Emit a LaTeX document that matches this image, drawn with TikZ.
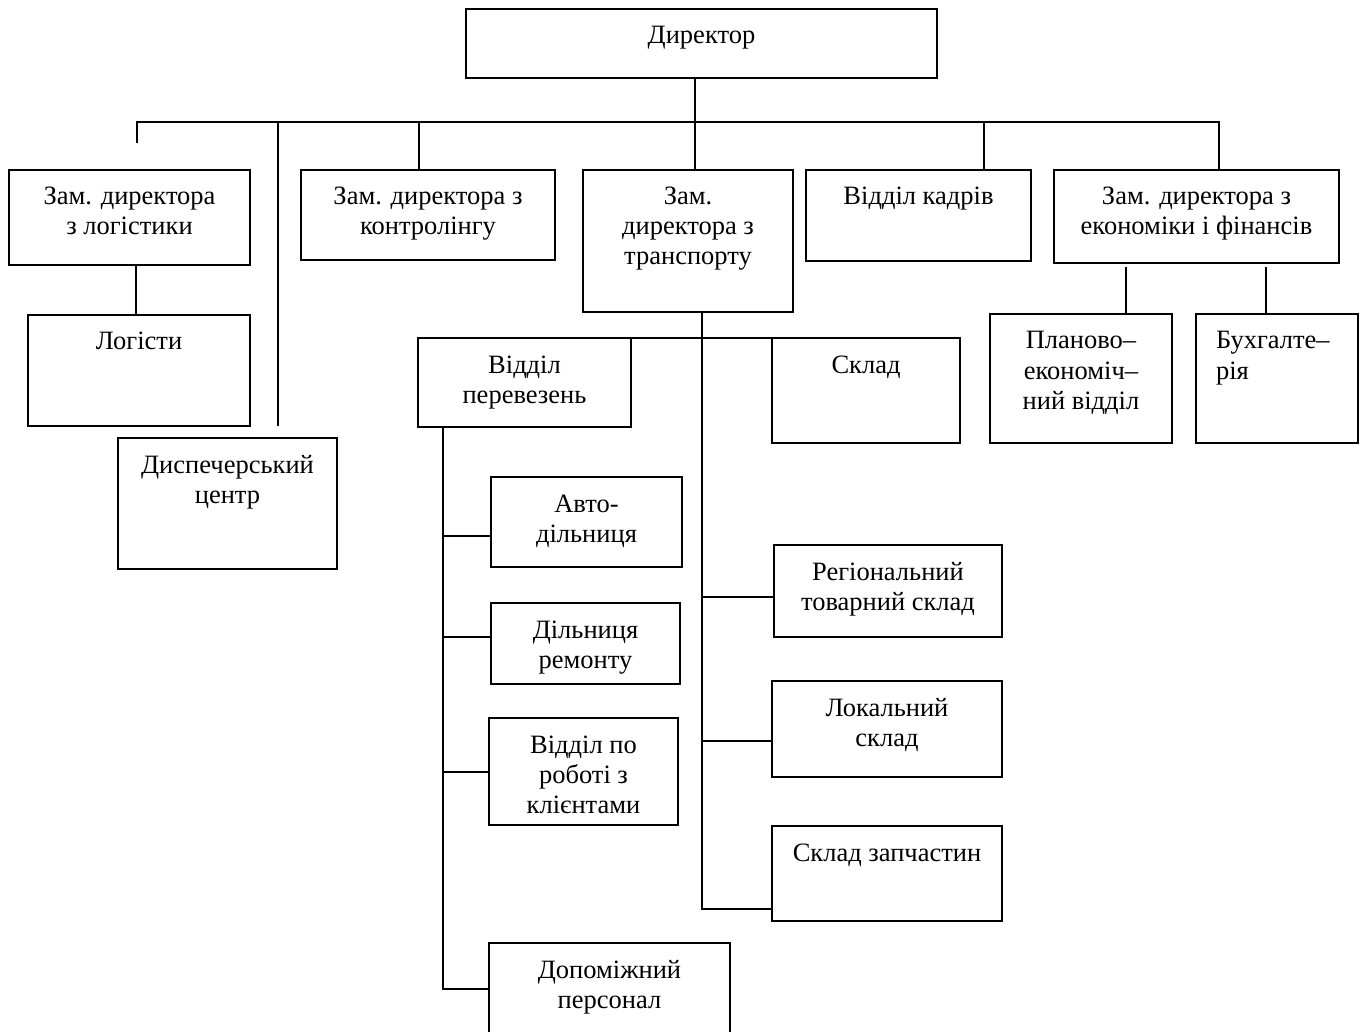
\documentclass[tikz,border=0pt]{standalone}
\usepackage{fontspec}
\setmainfont{Liberation Serif}
\tikzset{
  box/.style={draw, line width=1.5pt, inner sep=0pt, outer sep=0pt, anchor=north west,
    font=\fontsize{26.5}{30}\selectfont},
  conn/.style={line width=1.5pt}
}
% align, name, x1, y1, x2, y2, text
\newcommand\orgbox[7]{%
  \node[box] (#2) at (#3,#4) {\parbox[t][\dimexpr #6pt-#4pt\relax][t]{\dimexpr #5pt-#3pt\relax}{#1\vspace*{14pt}\strut #7\par}};}
\begin{document}
\begin{tikzpicture}[x=1pt,y=-1pt]
\fill[white] (0,0) rectangle (1365,1032);
\useasboundingbox (0,0) rectangle (1365,1032);

\orgbox{\centering}{dir}{466}{9}{937}{78}{Директор}
\orgbox{\centering}{zlog}{9}{170}{250}{265}{Зам. директора\\з логістики}
\orgbox{\centering}{ctrl}{301}{170}{555}{260}{Зам. директора з\\контролінгу}
\orgbox{\centering}{trans}{583}{170}{793}{312}{Зам.\\директора з\\транспорту}
\orgbox{\centering}{kadr}{806}{170}{1031}{261}{Відділ кадрів}
\orgbox{\centering}{econ}{1054}{170}{1339}{263}{Зам. директора з\\економіки і фінансів}
\orgbox{\centering}{log}{28}{315}{250}{426}{Логісти}
\orgbox{\centering}{disp}{118}{438}{337}{569}{Диспечерський\\центр}
\orgbox{\centering}{per}{418}{338}{631}{427}{Відділ\\перевезень}
\orgbox{\centering}{sklad}{772}{338}{960}{443}{Склад}
\orgbox{\centering}{plan}{990}{314}{1172}{443}{Планово–\\економіч–\\ний відділ}
\orgbox{\raggedright\leftskip=20pt}{buh}{1196}{314}{1358}{443}{Бухгалте–\\рія}
\orgbox{\centering}{avto}{491}{477}{682}{567}{Авто-\\дільниця}
\orgbox{\centering}{rem}{491}{603}{680}{684}{Дільниця\\ремонту}
\orgbox{\centering}{kli}{489}{718}{678}{825}{Відділ по\\роботі з\\клієнтами}
\orgbox{\centering}{dop}{489}{943}{730}{1050}{Допоміжний\\персонал}
\orgbox{\centering}{reg}{774}{545}{1002}{637}{Регіональний\\товарний склад}
\orgbox{\centering}{lok}{772}{681}{1002}{777}{Локальний\\склад}
\orgbox{\centering}{zap}{772}{826}{1002}{921}{Склад запчастин}

% top bus
\coordinate (b1) at (137,122);
\coordinate (b1e) at (137,143);
\coordinate (b2) at (278,122);
\coordinate (b2e) at (278,426);
\coordinate (b3) at (419,122);
\coordinate (bm) at (695,122);
\coordinate (b4) at (984,122);
\coordinate (b5) at (1219,122);
\draw[conn] (dir.south -| bm) -- (trans.north -| bm);
\draw[conn] (b1e) -- (b1) -- (b5) -- (econ.north -| b5);
\draw[conn] (b2) -- (b2e);
\draw[conn] (b3) -- (ctrl.north -| b3);
\draw[conn] (b4) -- (kadr.north -| b4);

% logistics
\coordinate (lg) at (136,0);
\draw[conn] (zlog.south -| lg) -- (log.north -| lg);

% economics
\coordinate (e1) at (1126,267);
\coordinate (e2) at (1266,267);
\draw[conn] (e1) -- (plan.north -| e1);
\draw[conn] (e2) -- (buh.north -| e2);

% transport
\coordinate (tv) at (702,909);
\draw[conn] (trans.south -| tv) -- (tv) -- (tv -| zap.west);
\draw[conn] (per.north east) -- (sklad.north west);
\coordinate (r1) at (702,597);
\coordinate (r2) at (702,741);
\draw[conn] (r1) -- (r1 -| reg.west);
\draw[conn] (r2) -- (r2 -| lok.west);

% transport department
\coordinate (pv) at (443,989);
\draw[conn] (per.south -| pv) -- (pv) -- (pv -| dop.west);
\coordinate (l1) at (443,536);
\coordinate (l2) at (443,637);
\coordinate (l3) at (443,772);
\draw[conn] (l1) -- (l1 -| avto.west);
\draw[conn] (l2) -- (l2 -| rem.west);
\draw[conn] (l3) -- (l3 -| kli.west);
\end{tikzpicture}
\end{document}
